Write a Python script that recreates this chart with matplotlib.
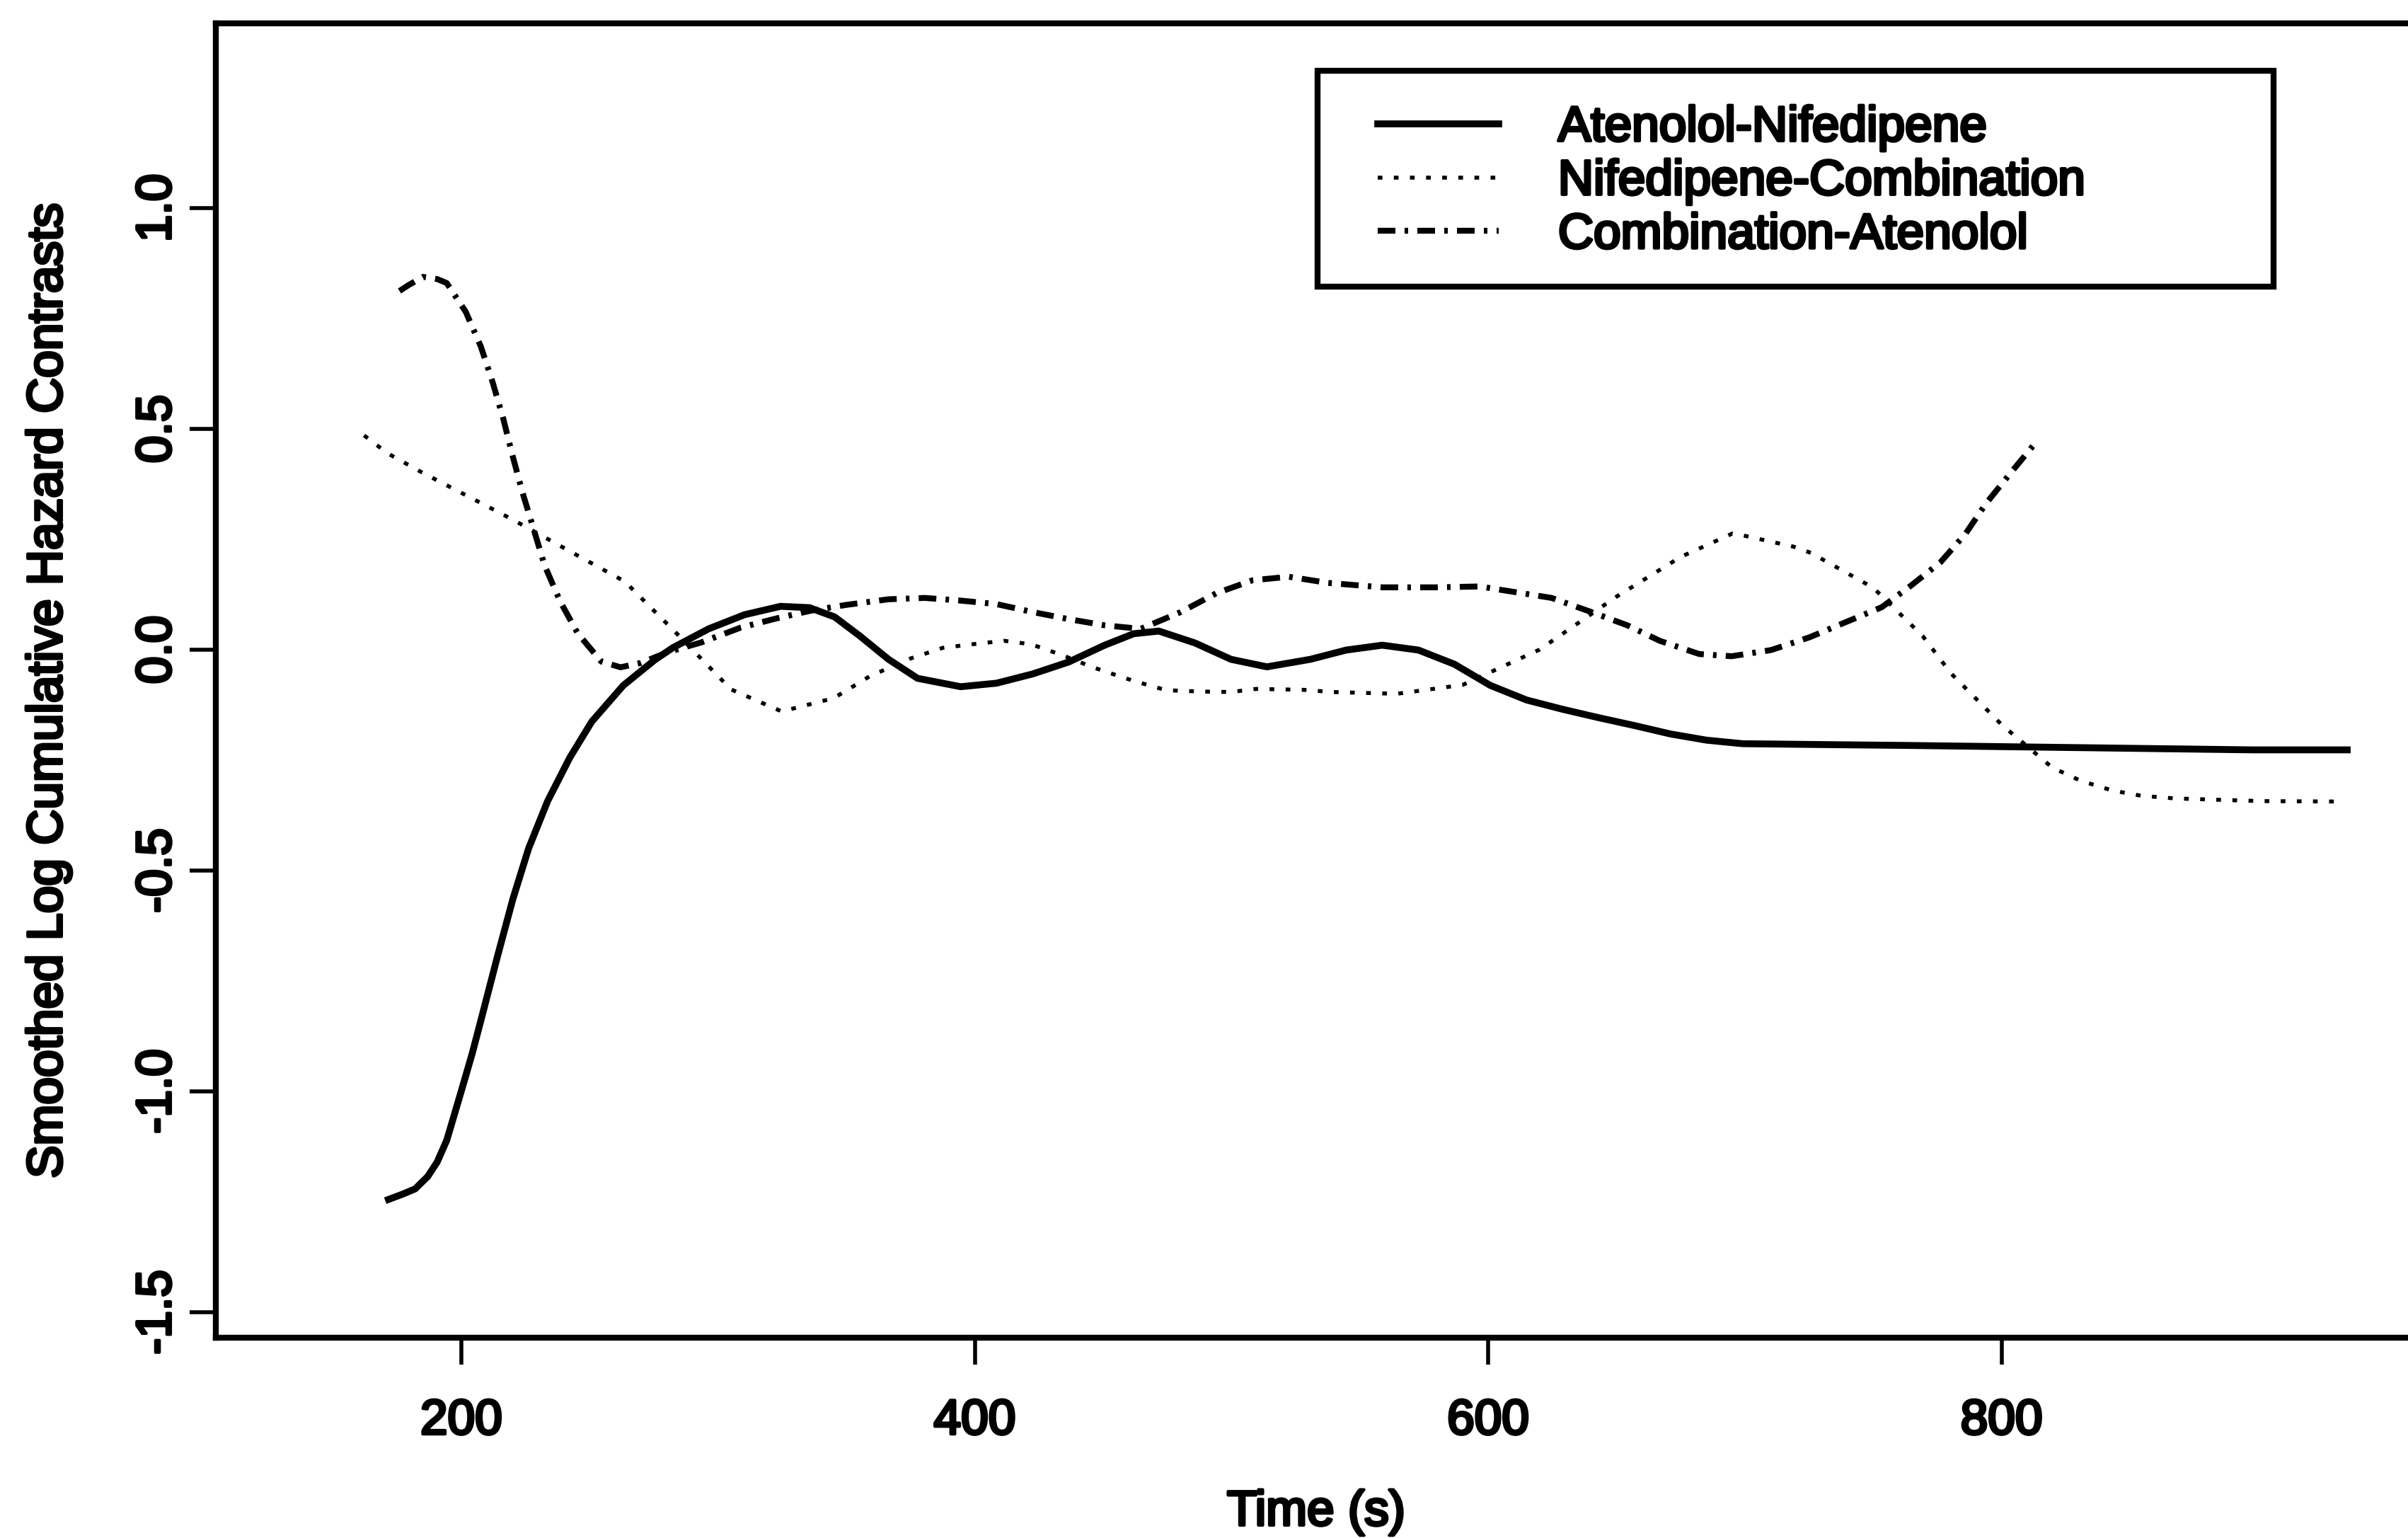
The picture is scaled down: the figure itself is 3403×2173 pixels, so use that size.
import matplotlib
matplotlib.use("Agg")
import matplotlib.pyplot as plt
from matplotlib import patheffects as pe
from matplotlib.patches import Rectangle

plt.rcParams['font.family'] = ['Liberation Sans', 'DejaVu Sans']

# ---------------- data ----------------
series_labels = ["Atenolol-Nifedipene", "Nifedipene-Combination", "Combination-Atenolol"]

an_time = [171.6, 177.1, 182.0, 186.9, 190.6, 194.3, 196.8, 200.5, 204.2, 207.9,
           214.0, 220.1, 226.2, 233.6,
           242.2, 250.8, 263.1, 275.4, 282.3, 296.3, 310.3, 324.3, 335.6, 345.4,
           355.2, 366.4, 377.7, 394.5, 408.5, 422.6, 436.6, 450.6, 461.9, 471.7,
           485.8, 499.8, 513.8, 530.7, 544.7, 558.7, 572.8, 586.8, 600.8, 614.9,
           628.9, 642.9, 657.0, 671.0, 685.0, 699.0, 730.0, 763.9, 830.8, 897.7, 934.6]
an_value = [-1.245, -1.233, -1.221, -1.193, -1.160, -1.111, -1.062, -0.989, -0.915, -0.833,
            -0.696, -0.564, -0.450, -0.343,
            -0.245, -0.163, -0.081, -0.023, 0.004, 0.047, 0.079, 0.098, 0.095, 0.074,
            0.031, -0.022, -0.065, -0.084, -0.076, -0.055, -0.028, 0.010, 0.036, 0.042,
            0.015, -0.022, -0.039, -0.022, -0.001, 0.010, -0.001, -0.033, -0.081, -0.114,
            -0.135, -0.154, -0.172, -0.191, -0.205, -0.213, -0.215, -0.217, -0.222, -0.227, -0.227]

nc_time = [162.1, 171.4, 185.0, 200.0, 219.8, 240.0, 263.7, 285.0, 305.0, 324.8,
           345.0, 359.2, 375.0, 387.5, 398.8, 411.4, 422.0, 433.8, 446.0, 457.7,
           463.2, 474.6, 488.6, 499.8, 509.6, 527.9, 539.1, 564.4, 590.0, 620.0,
           650.0, 675.0, 695.2, 700.5, 719.0, 725.7, 750.0, 769.2, 780.3, 800.0,
           819.7, 830.8, 843.1, 854.5, 867.7, 901.1, 931.1]
nc_value = [0.485, 0.444, 0.400, 0.355, 0.295, 0.230, 0.154, 0.030, -0.090, -0.140,
            -0.110, -0.060, -0.020, 0.004, 0.012, 0.020, 0.012, -0.012, -0.040, -0.063,
            -0.073, -0.092, -0.095, -0.096, -0.089, -0.091, -0.096, -0.100, -0.080, 0.000,
            0.120, 0.210, 0.263, 0.257, 0.233, 0.219, 0.140, 0.031, -0.054, -0.170,
            -0.267, -0.297, -0.319, -0.331, -0.337, -0.343, -0.344]

ca_time = [175.9, 179.6, 185.1, 190.6, 194.3, 201.7, 207.6, 212.1, 216.4, 219.9, 223.8, 228.1,
           232.4, 238.5, 245.3, 254.5, 262.0, 270.0, 280.3, 293.3, 308.9, 323.0,
           336.0, 349.6, 366.4, 380.5, 394.5, 408.5, 422.6, 436.6, 450.6, 464.6,
           480.2, 494.2, 508.2, 522.3, 537.7, 558.8, 579.8, 596.7, 610.7, 624.7,
           640.2, 654.2, 666.8, 682.2, 694.8, 710.2, 725.2, 739.2, 753.3, 764.7,
           776.2, 785.9, 793.8, 803.5, 812.3]
ca_value = [0.812, 0.826, 0.844, 0.839, 0.830, 0.765, 0.686, 0.607, 0.521, 0.440, 0.356, 0.274,
            0.191, 0.109, 0.037, -0.027, -0.040, -0.030, -0.006, 0.016, 0.050, 0.071,
            0.088, 0.101, 0.114, 0.117, 0.111, 0.103, 0.085, 0.069, 0.055, 0.047,
            0.085, 0.128, 0.157, 0.165, 0.151, 0.141, 0.141, 0.143, 0.130, 0.117,
            0.085, 0.055, 0.020, -0.010, -0.015, -0.001, 0.028, 0.062, 0.096, 0.145,
            0.198, 0.262, 0.330, 0.400, 0.462]

x_ticks = [200, 400, 600, 800]
x_tick_labels = ["200", "400", "600", "800"]
y_ticks = [-1.5, -1.0, -0.5, 0.0, 0.5, 1.0]
y_tick_labels = ["-1.5", "-1.0", "-0.5", "0.0", "0.5", "1.0"]

x_title = "Time (s)"
y_title = "Smoothed Log Cumulative Hazard Contrasts"

# ---------------- figure ----------------
W, H = 3403, 2173
fig = plt.figure(figsize=(W / 100, H / 100), dpi=100)
fig.patch.set_facecolor("white")
ax = fig.add_axes([305 / W, (H - 1890) / H, (3415 - 305) / W, (1890 - 33) / H])

FS = 50
stroke = [pe.withStroke(linewidth=3, foreground="black")]

l1, = ax.plot(an_time, an_value, color="black", lw=7, solid_joinstyle="round",
              label=series_labels[0])
l2, = ax.plot(nc_time, nc_value, color="black", lw=4, linestyle=(0, (1.2, 2.9)),
              label=series_labels[1])
l3, = ax.plot(ca_time, ca_value, color="black", lw=6,
              linestyle=(0, (3.0, 1.56, 0.6, 1.56)), label=series_labels[2])

ax.set_xlim(104.35, 961.6)
ax.set_ylim(-1.558, 1.418)

ax.set_xticks(x_ticks)
ax.set_xticklabels(x_tick_labels)
ax.set_yticks(y_ticks)
ax.set_yticklabels(y_tick_labels, rotation=90, va="center")

ax.tick_params(axis="both", direction="out", length=27, width=4, labelsize=FS,
               color="black", labelcolor="black")
ax.tick_params(axis="x", pad=35)
ax.tick_params(axis="y", pad=9)

for side in ["left", "bottom", "top"]:
    ax.spines[side].set_linewidth(6)
    ax.spines[side].set_color("black")
ax.spines["right"].set_visible(False)

for t in ax.get_xticklabels() + ax.get_yticklabels():
    t.set_path_effects(stroke)

xl = ax.set_xlabel(x_title, fontsize=FS)
ax.xaxis.set_label_coords(0.5, -0.1330)
xl.set_verticalalignment("center")
xl.set_path_effects(stroke)

yl = ax.set_ylabel(y_title, fontsize=FS)
ax.yaxis.set_label_coords(-0.0759, 0.4927)
yl.set_verticalalignment("center")
yl.set_path_effects(stroke)

leg = ax.legend(handles=[l1, l2, l3], loc="upper left",
                bbox_to_anchor=(1947 / W, 1 - 149 / H), bbox_transform=fig.transFigure,
                frameon=False, fontsize=FS, handlelength=2.46, handletextpad=1.21,
                labelspacing=0.17, borderpad=0, borderaxespad=0)
for t in leg.get_texts():
    t.set_path_effects(stroke)

frame = Rectangle((1862 / W, 1 - 405 / H), (3213 - 1862) / W, (405 - 100) / H,
                  transform=fig.transFigure, fill=False, lw=6, ec="black")
fig.add_artist(frame)

fig.savefig("out.png", dpi=100, facecolor="white")
